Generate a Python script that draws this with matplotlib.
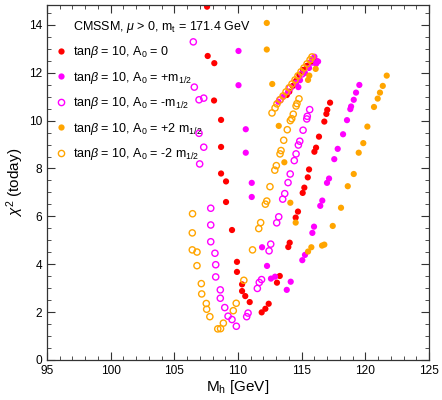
import matplotlib
matplotlib.use("Agg")
import matplotlib.pyplot as plt
from matplotlib.lines import Line2D
from matplotlib.ticker import MultipleLocator

plt.rcParams['font.family'] = ['Liberation Sans', 'DejaVu Sans']
plt.rcParams['mathtext.fontset'] = 'custom'
plt.rcParams['mathtext.rm'] = 'Liberation Sans'
plt.rcParams['mathtext.it'] = 'Liberation Sans:italic'

# tan(beta) = 10, A0 = 0
mh_a0 = [107.57, 107.62, 108.14, 108.12, 108.67, 108.67, 108.67, 109.06, 109.06, 109.53,
         109.92, 109.92, 110.32, 110.32, 110.57, 110.92, 111.86, 112.15, 112.41, 113.06,
         113.28, 113.95, 114.06, 114.53, 114.71, 115.08, 115.21, 115.48, 115.58, 116.00,
         116.13, 116.36, 116.78, 116.94, 117.01, 117.23,
         113.83, 114.03, 114.30, 114.56, 114.82, 115.11, 115.42, 115.73, 115.97, 116.23]
chi_a0 = [14.76, 12.70, 12.40, 10.84, 10.03, 8.90, 7.79, 7.46, 6.60, 5.43,
          4.10, 3.68, 3.16, 2.88, 2.67, 2.42, 1.99, 2.14, 2.35, 3.23,
          3.51, 4.72, 4.90, 5.95, 6.20, 6.98, 7.20, 7.63, 7.96, 8.70,
          8.87, 9.33, 9.96, 10.28, 10.45, 10.75,
          11.07, 11.21, 11.45, 11.66, 11.91, 12.12, 12.29, 12.45, 12.58, 12.47]

# A0 = +m1/2
mh_p1 = [110.04, 110.04, 110.61, 110.61, 111.08, 111.08, 111.89, 112.28, 112.59, 112.91,
         114.14, 113.83, 115.05, 115.26, 115.84, 115.97, 116.46, 116.62, 116.99, 117.15,
         117.56, 117.83, 118.25, 118.56, 118.82, 118.88, 119.09, 119.27, 119.53,
         113.17, 113.54, 113.93, 114.56, 114.74, 114.87, 115.26, 115.58, 116.00, 116.29,
         116.13, 115.81]
chi_p1 = [12.91, 11.48, 9.64, 8.66, 7.40, 6.81, 4.71, 3.93, 3.40, 3.48,
          3.27, 2.93, 4.17, 4.39, 5.31, 5.57, 6.44, 6.66, 7.40, 7.58,
          8.39, 8.82, 9.43, 10.02, 10.48, 10.59, 10.87, 11.17, 11.49,
          10.79, 10.99, 11.20, 11.58, 11.40, 11.69, 11.99, 12.20, 12.67, 12.47,
          12.37, 12.54]

# A0 = -m1/2
mh_m1 = [106.49, 106.57, 106.94, 107.31, 106.94, 107.31, 106.99, 107.86, 107.86, 107.86,
         108.19, 108.25, 108.25, 108.61, 108.61, 108.96, 109.22, 109.53, 109.87, 110.68,
         110.79, 111.52, 111.67, 111.85, 112.44, 112.57, 113.04, 113.20, 113.51, 113.67,
         113.93, 114.10, 114.42, 114.56, 114.74, 114.85, 115.11, 115.40, 115.44, 115.63,
         113.30, 114.09, 115.03, 115.81]
chi_m1 = [13.29, 11.40, 10.87, 10.94, 9.47, 8.89, 8.19, 6.34, 5.64, 4.94,
          4.46, 3.98, 3.47, 2.93, 2.58, 2.19, 1.83, 1.69, 1.41, 1.81,
          1.96, 2.99, 3.24, 3.36, 4.56, 4.84, 5.73, 5.98, 6.72, 6.95,
          7.41, 7.77, 8.33, 8.61, 8.98, 9.14, 9.60, 10.07, 10.18, 10.46,
          10.87, 11.37, 11.95, 12.45]

# A0 = +2 m1/2
mh_p2 = [112.26, 112.26, 112.69, 113.20, 113.64, 114.11, 114.53, 115.50, 115.76, 116.60,
         116.78, 117.44, 118.09, 118.62, 119.09, 119.48, 119.84, 120.16, 120.68, 120.97,
         121.15, 121.37, 121.68, 116.10, 115.60, 115.50]
chi_p2 = [14.08, 12.97, 11.53, 9.78, 8.26, 6.57, 5.74, 4.53, 4.71, 4.78,
          4.82, 5.60, 6.36, 7.26, 7.77, 8.66, 9.06, 9.75, 10.57, 10.92,
          11.17, 11.45, 11.88, 12.16, 11.88, 11.70]

# A0 = -2 m1/2
mh_m2 = [106.43, 106.41, 106.41, 106.78, 106.78, 107.12, 107.15, 107.51, 107.54, 107.79,
         108.41, 108.63, 108.85, 109.63, 109.86, 110.46, 111.14, 111.63, 111.78, 112.15,
         112.26, 112.51, 112.89, 113.01, 113.30, 113.38, 113.59, 113.87, 114.11, 114.22,
         114.34, 114.56, 114.63, 114.79,
         112.67, 112.91, 113.06, 113.30, 113.54, 113.77, 114.01, 114.24, 114.48, 114.71,
         114.95, 115.18, 115.42, 115.66, 115.81]
chi_m2 = [6.11, 5.31, 4.60, 4.51, 3.94, 3.19, 2.76, 2.36, 2.12, 1.81,
          1.30, 1.31, 1.54, 2.06, 2.37, 3.33, 4.60, 5.49, 5.74, 6.51,
          6.64, 7.24, 7.93, 8.12, 8.61, 8.75, 9.18, 9.62, 10.00, 10.08,
          10.27, 10.61, 10.71, 10.91,
          10.32, 10.53, 10.70, 10.87, 11.03, 11.20, 11.37, 11.53, 11.70, 11.87,
          12.04, 12.20, 12.37, 12.54, 12.66]

fig = plt.figure(figsize=(4.42, 4.0), dpi=100)
ax = fig.add_axes([0.1063, 0.1, 0.8643, 0.8875])

ms = 20
ax.scatter(mh_a0, chi_a0, s=ms, c='#ff0000', edgecolors='none')
ax.scatter(mh_p1, chi_p1, s=ms, c='#ff00ff', edgecolors='none')
ax.scatter(mh_m1, chi_m1, s=ms, facecolors='none', edgecolors='#ff00ff', linewidths=1.0)
ax.scatter(mh_p2, chi_p2, s=ms, c='#ffa500', edgecolors='none')
ax.scatter(mh_m2, chi_m2, s=ms, facecolors='none', edgecolors='#ffa500', linewidths=1.0)

ax.set_xlim(95, 125)
ax.set_ylim(0, 14.83)
ax.xaxis.set_major_locator(MultipleLocator(5))
ax.xaxis.set_minor_locator(MultipleLocator(1))
ax.yaxis.set_major_locator(MultipleLocator(2))
ax.yaxis.set_minor_locator(MultipleLocator(0.5))
ax.tick_params(which='both', direction='in', top=True, right=True, labelsize=8.6,
               color='#333333')
ax.tick_params(which='major', length=6)
ax.tick_params(which='minor', length=3)
for sp in ax.spines.values():
    sp.set_linewidth(0.9)
    sp.set_color('#333333')

ax.set_xlabel(r'M$_\mathrm{h}$ [GeV]', fontsize=11, labelpad=1)
ax.set_ylabel(r'$\chi^2$ (today)', fontsize=11, labelpad=2)

handles = [
    Line2D([], [], linestyle='none'),
    Line2D([], [], linestyle='none', marker='o', markersize=4.5, color='#ff0000', markeredgecolor='none'),
    Line2D([], [], linestyle='none', marker='o', markersize=4.5, color='#ff00ff', markeredgecolor='none'),
    Line2D([], [], linestyle='none', marker='o', markersize=4.5, markerfacecolor='none', markeredgecolor='#ff00ff'),
    Line2D([], [], linestyle='none', marker='o', markersize=4.5, color='#ffa500', markeredgecolor='none'),
    Line2D([], [], linestyle='none', marker='o', markersize=4.5, markerfacecolor='none', markeredgecolor='#ffa500'),
]
labels = [
    r'CMSSM, $\mu$ > 0, m$_\mathrm{t}$ = 171.4 GeV',
    r'tan$\beta$ = 10, A$_0$ = 0',
    r'tan$\beta$ = 10, A$_0$ = +m$_{1/2}$',
    r'tan$\beta$ = 10, A$_0$ = -m$_{1/2}$',
    r'tan$\beta$ = 10, A$_0$ = +2 m$_{1/2}$',
    r'tan$\beta$ = 10, A$_0$ = -2 m$_{1/2}$',
]
ax.legend(handles, labels, loc='upper left', frameon=False, fontsize=9,
          handlelength=0.8, handletextpad=0.6, labelspacing=0.75,
          borderaxespad=0.3, bbox_to_anchor=(0.0, 0.985))

fig.savefig('out.png', dpi=100)
